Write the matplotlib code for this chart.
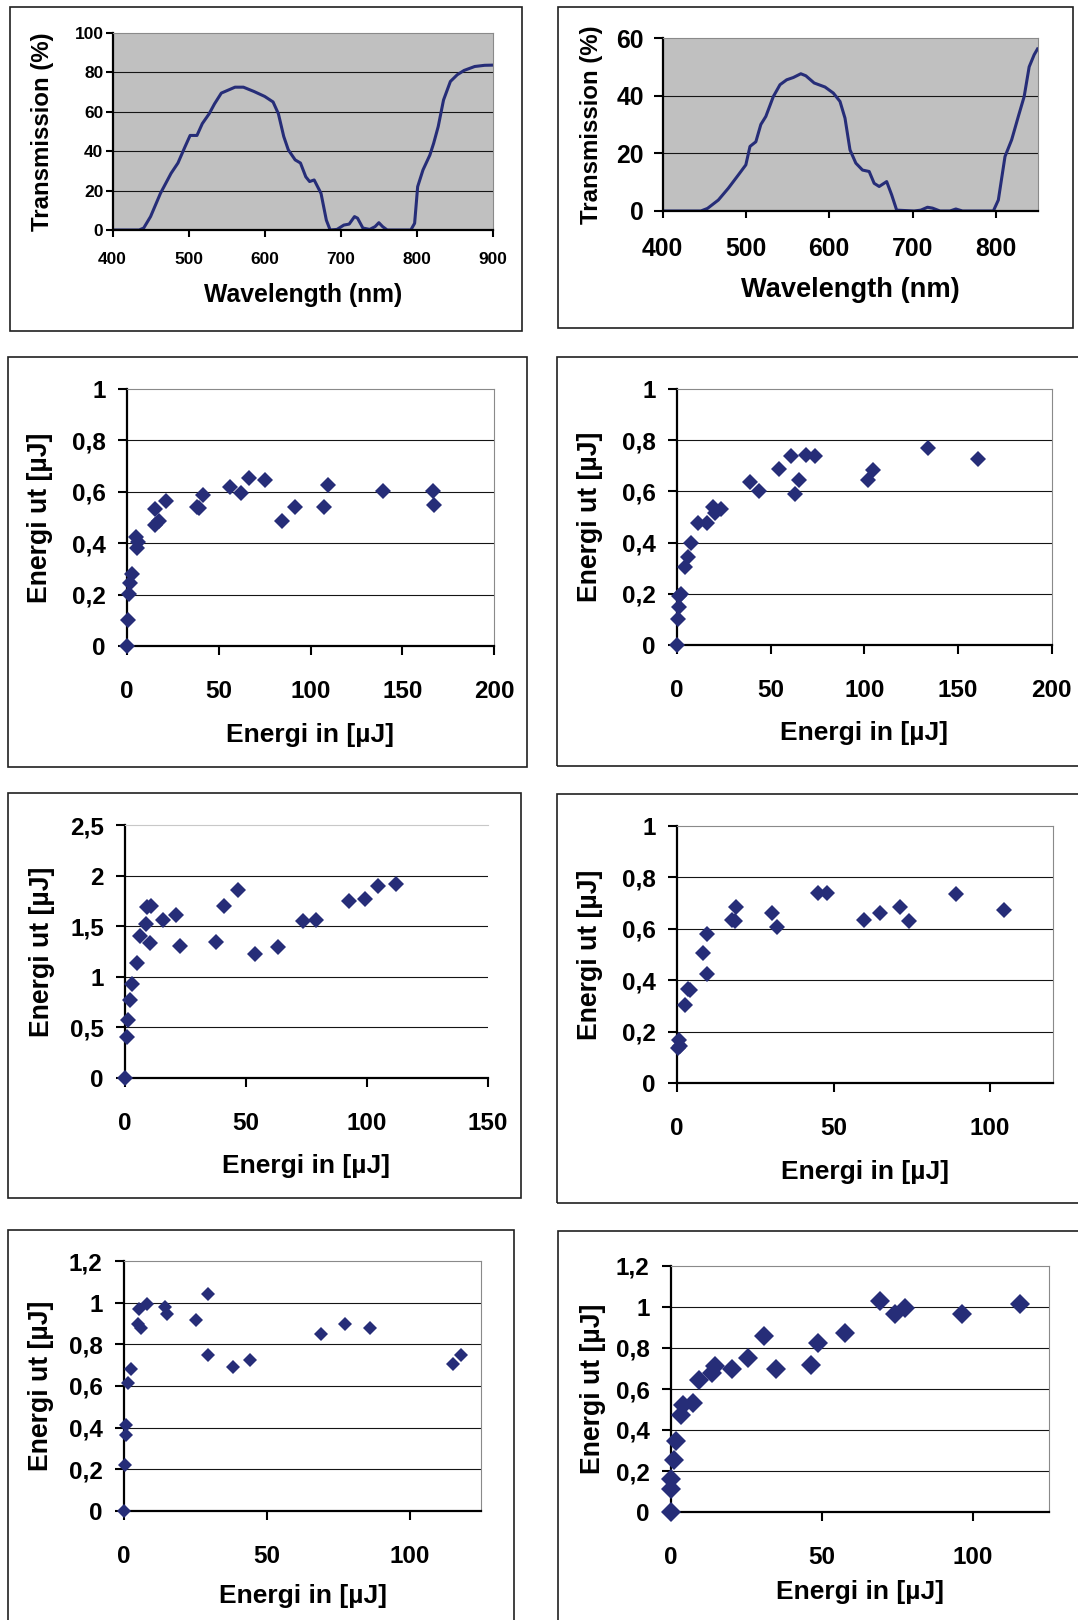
import matplotlib
matplotlib.use("Agg")
import numpy as np
import matplotlib.pyplot as plt
from matplotlib.patches import Rectangle
from matplotlib.ticker import MultipleLocator, FuncFormatter

plt.rcParams["font.family"] = ["Liberation Sans", "DejaVu Sans"]
plt.rcParams["font.weight"] = "bold"
plt.rcParams["axes.labelweight"] = "bold"

W, H = 1078, 1620
NAVY = "#262d78"

# Transmission curves (filter A and filter B)
wl_a = [400, 435, 441, 450, 463, 477, 486, 495, 502, 511, 518, 527, 534, 543, 552, 561, 572, 586, 600, 611,
        618, 625, 631, 640, 647, 654, 659, 665, 674, 681, 686, 695, 704, 711, 718, 722, 729, 738, 745, 750,
        755, 761, 792, 797, 801, 808, 817, 822, 828, 835, 844, 853, 862, 876, 889, 900]
tr_a = [0, 0, 1, 6.8, 18.6, 28.8, 34, 42, 48, 48, 54, 59, 64, 69.5, 71, 72.5, 72.5, 70.3, 67.8, 65,
        59, 47.5, 40.7, 35.6, 34, 27, 24.6, 25.4, 18.6, 5, 0, 0.3, 2.5, 3, 6.8, 6, 1, 0.3, 1.7, 3.7,
        1.7, 0, 0, 3.4, 22, 30.5, 38, 44, 52.5, 66, 75.4, 78.8, 81, 83, 83.6, 83.7]

wl_b = [400, 446, 454, 467, 479, 491, 500, 505, 512, 518, 524, 533, 541, 549, 557, 566, 572, 582, 595, 605,
        613, 619, 625, 632, 640, 648, 654, 660, 669, 675, 681, 702, 710, 718, 724, 733, 745, 752, 760, 797,
        803, 811, 819, 827, 834, 840, 846, 850]
tr_b = [0, 0, 0.9, 3.8, 7.9, 12.5, 16, 22.4, 24, 30, 32.8, 39.7, 43.8, 45.5, 46.3, 47.6, 46.9, 44.4, 43, 40.9,
        38, 32.2, 21.2, 16.6, 14.2, 13.7, 9.6, 8.5, 10.2, 5.6, 0.3, 0, 0.3, 1.3, 1, 0, 0, 0.7, 0, 0,
        3.8, 18.9, 24.7, 32.8, 39.7, 50, 54.2, 56.2]

# Energi in / Energi ut measurements
e_in_1 = [0, 0.4, 1.1, 1.9, 2.6, 5.1, 6, 5.6, 15, 15.4, 17.2, 21, 38.2, 39.4, 41.2, 56.2, 61.9, 66.4, 75,
          84.3, 91.3, 107.2, 109.5, 139.5, 166.8, 167.2]
e_out_1 = [0, 0.103, 0.204, 0.246, 0.28, 0.423, 0.406, 0.38, 0.532, 0.47, 0.488, 0.564, 0.542, 0.536, 0.586,
           0.618, 0.594, 0.655, 0.644, 0.488, 0.542, 0.54, 0.627, 0.603, 0.603, 0.547]

e_in_2 = [0, 0.5, 0.9, 1.3, 2.2, 4.2, 5.9, 7.3, 11, 15.9, 19.2, 20.1, 23.4, 38.8, 44, 54.6, 60.8, 63.2, 65,
          68.7, 73.8, 102, 104.8, 134, 160.8]
e_out_2 = [0, 0.1, 0.147, 0.19, 0.2, 0.306, 0.343, 0.398, 0.476, 0.476, 0.538, 0.515, 0.531, 0.635, 0.6,
           0.687, 0.739, 0.589, 0.645, 0.743, 0.737, 0.645, 0.684, 0.769, 0.728]

e_in_3 = [0, 0.85, 1.3, 2.1, 3, 5.1, 6.1, 8.7, 9, 10.8, 10.5, 15.8, 21.1, 22.9, 37.5, 41, 46.7, 53.6, 63.1,
          73.5, 79.2, 92.7, 99.1, 104.8, 112.3]
e_out_3 = [0, 0.41, 0.576, 0.77, 0.93, 1.14, 1.4, 1.52, 1.69, 1.7, 1.33, 1.56, 1.61, 1.3, 1.34, 1.7, 1.86,
           1.23, 1.29, 1.55, 1.56, 1.75, 1.77, 1.9, 1.92]

e_in_4 = [0.3, 0.5, 0.8, 2.5, 3.5, 4, 8.2, 9.7, 9.7, 17.6, 18.7, 18.5, 30.5, 31.9, 45, 47.8, 59.6, 64.8,
          71.1, 74.2, 89, 104.4]
e_out_4 = [0.138, 0.169, 0.143, 0.303, 0.364, 0.361, 0.506, 0.578, 0.426, 0.634, 0.686, 0.631, 0.66, 0.608,
           0.738, 0.738, 0.634, 0.66, 0.686, 0.631, 0.734, 0.675]

e_in_5 = [0, 0.2, 0.6, 0.8, 1.5, 2.4, 4.8, 6.1, 5.4, 7.9, 14.5, 15.1, 25.2, 29.4, 29.4, 38.1, 44.2, 69,
          77.2, 86.2, 115, 117.8]
e_out_5 = [0, 0.219, 0.366, 0.411, 0.616, 0.68, 0.9, 0.878, 0.968, 0.992, 0.979, 0.947, 0.915, 1.04, 0.747,
           0.691, 0.723, 0.851, 0.896, 0.88, 0.704, 0.747]

e_in_6 = [0, 0, 0.2, 1.1, 1.7, 3.4, 4, 7.4, 9.3, 13.6, 14.5, 20.2, 25.6, 30.9, 35, 46.4, 48.6, 57.7, 69.1,
          74.2, 77.5, 96.4, 115.7]
e_out_6 = [0, 0.114, 0.16, 0.252, 0.345, 0.472, 0.521, 0.533, 0.643, 0.676, 0.713, 0.697, 0.749, 0.858,
           0.697, 0.717, 0.826, 0.871, 1.029, 0.964, 0.997, 0.964, 1.013]

fig = plt.figure(figsize=(W / 100, H / 100), dpi=100)


def px_axes(l, t, r, b):
    return fig.add_axes([l / W, 1 - b / H, (r - l) / W, (b - t) / H])


def frame(l, t, r, b):
    fig.add_artist(Rectangle((l / W, 1 - b / H), (r - l) / W, (b - t) / H, transform=fig.transFigure,
                             fill=False, ec="#202020", lw=1.2))


def style(ax, rect, xlabel, ylabel, xlab_y, ylab_x, xlab_fs, ylab_fs, tick_fs, ylen, xlen, ypad, xpad):
    l, t, r, b = rect
    for s in ["left", "bottom"]:
        ax.spines[s].set_linewidth(1.6)
        ax.spines[s].set_color("black")
    for s in ["top", "right"]:
        ax.spines[s].set_linewidth(0.8)
        ax.spines[s].set_color("#8a8a8a")
    ax.tick_params(axis="y", direction="out", length=ylen, width=1.5, labelsize=tick_fs, pad=ypad)
    ax.tick_params(axis="x", direction="out", length=xlen, width=1.5, labelsize=tick_fs, pad=xpad)
    ax.tick_params(top=False, right=False)
    ax.yaxis.grid(True, color="#151515", lw=0.8)
    ticks = ax.yaxis.get_major_ticks()
    ticks[0].gridline.set_visible(False)
    ticks[-1].gridline.set_visible(False)
    ax.set_xlabel(xlabel, fontsize=xlab_fs, va="center")
    ax.xaxis.set_label_coords(0.5, (b - xlab_y) / (b - t))
    ax.set_ylabel(ylabel, fontsize=ylab_fs, va="center")
    ax.yaxis.set_label_coords((ylab_x - l) / (r - l), 0.5)


# --- transmission spectra ---
spectra = [
    dict(ax=(112.5, 33, 493, 230), frame=(9.5, 7, 522, 331), x=wl_a, y=tr_a, xlim=(400, 900), ymax=100,
         tick_fs=12.5, xlab_fs=17.8, xlab_y=295, ylab_x=43, ylen=5, xlen=5, ypad=1.5, xpad=11),
    dict(ax=(662.5, 38, 1037.5, 211), frame=(557.5, 7, 1073, 328), x=wl_b, y=tr_b, xlim=(400, 850), ymax=60,
         tick_fs=17.8, xlab_fs=19.6, xlab_y=290, ylab_x=591.5, ylen=6.5, xlen=5, ypad=7, xpad=14),
]
for p in spectra:
    frame(*p["frame"])
    ax = px_axes(*p["ax"])
    ax.set_facecolor("#c0c0c0")
    ax.plot(p["x"], p["y"], color=NAVY, lw=2.2)
    ax.set_xlim(*p["xlim"])
    ax.set_ylim(0, p["ymax"])
    ax.set_xticks(np.arange(p["xlim"][0], p["xlim"][1] + 1, 100))
    ax.set_yticks(np.arange(0, p["ymax"] + 1, 20))
    style(ax, p["ax"], "Wavelength (nm)", "Transmission (%)", p["xlab_y"], p["ylab_x"], p["xlab_fs"], 17.3,
          p["tick_fs"], p["ylen"], p["xlen"], p["ypad"], p["xpad"])

# --- energy scatter plots ---
scatters = [
    dict(ax=(127, 389, 494, 646), frame=(8.3, 357, 527, 767), x=e_in_1, y=e_out_1, xmax=200, ymax=1,
         ystep=0.2, ms=8.0, xlab_y=735, ylab_x=40.3),
    dict(ax=(677, 389, 1051.5, 645), frame=(556.5, 357, 1090, 766), x=e_in_2, y=e_out_2, xmax=200, ymax=1,
         ystep=0.2, ms=8.1, xlab_y=733, ylab_x=590.4),
    dict(ax=(125, 825, 487.6, 1078), frame=(8.3, 793, 520.7, 1198), x=e_in_3, y=e_out_3, xmax=150, ymax=2.5,
         ystep=0.5, ms=7.8, xlab_y=1166, ylab_x=42.4, open_right=True),
    dict(ax=(677, 826, 1052.6, 1083), frame=(556.5, 794, 1090, 1203), x=e_in_4, y=e_out_4, xmax=120, ymax=1,
         ystep=0.2, ms=8.1, xlab_y=1172, ylab_x=590.4),
    dict(ax=(124, 1261, 481.4, 1511), frame=(8.3, 1230, 513.5, 1640), x=e_in_5, y=e_out_5, xmax=125, ymax=1.2,
         ystep=0.2, ms=7.5, xlab_y=1596, ylab_x=41.3),
    dict(ax=(670.7, 1266, 1048.5, 1512), frame=(557.5, 1231, 1090, 1640), x=e_in_6, y=e_out_6, xmax=125,
         ymax=1.2, ystep=0.2, ms=10.2, xlab_y=1592, ylab_x=592.5),
]
comma = FuncFormatter(lambda v, pos: f"{v:g}".replace(".", ","))
for p in scatters:
    frame(*p["frame"])
    ax = px_axes(*p["ax"])
    ax.plot(p["x"], p["y"], "D", color=NAVY, ms=p["ms"], mew=0, clip_on=False, zorder=3)
    ax.set_xlim(0, p["xmax"])
    ax.set_ylim(0, p["ymax"])
    ax.xaxis.set_major_locator(MultipleLocator(50))
    ax.set_yticks(np.arange(0, p["ymax"] + p["ystep"] / 2, p["ystep"]))
    ax.yaxis.set_major_formatter(comma)
    style(ax, p["ax"], "Energi in [µJ]", "Energi ut [µJ]", p["xlab_y"], p["ylab_x"], 19, 19.2, 17.5,
          6.8, 6.5, 8.5, 18)
    if p.get("open_right"):
        ax.spines["right"].set_visible(False)
        ax.spines["top"].set_color("#c8c8c8")

fig.savefig("out.png", dpi=100)
